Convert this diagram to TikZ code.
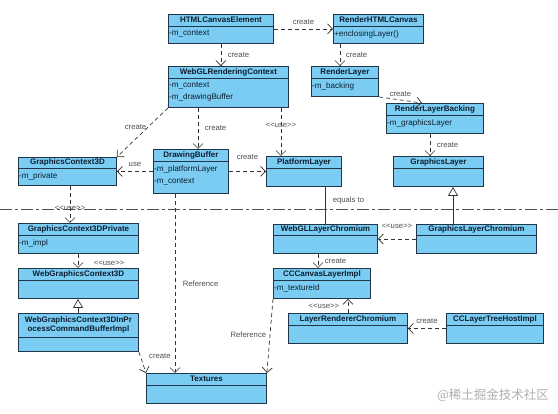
\documentclass[tikz,border=0pt]{standalone}
\usepackage{fontspec}
\setmainfont{Liberation Sans}
\newfontfamily\cjk{Noto Sans CJK SC}
\usepackage{tikz}
\usetikzlibrary{arrows.meta}
\definecolor{boxfill}{HTML}{7ACCF2}
\definecolor{boxline}{HTML}{22364A}
\definecolor{ink}{HTML}{0E1E30}
\definecolor{wire}{HTML}{333333}
\definecolor{note}{HTML}{4F4F4F}
\definecolor{wmark}{HTML}{B0B0B0}
\newcommand{\stereo}[1]{<\kern0pt<#1>\kern0pt>}
\begin{document}
\begin{tikzpicture}[x=1pt,y=-1pt,
  classbox/.style={draw=boxline,fill=boxfill,line width=0.9pt,inner sep=0pt,anchor=north west},
  classname/.style={font=\fontsize{8}{9.6}\selectfont\bfseries,text=ink,align=center,inner sep=0pt},
  classattr/.style={font=\fontsize{8.1}{12}\selectfont,text=ink,align=left,anchor=north west,inner sep=1pt},
  lbl/.style={font=\fontsize{7.7}{9}\selectfont,text=note,inner sep=0.5pt},
  dep/.style={draw=wire,line width=0.7pt,dash pattern=on 4pt off 3pt,
    -{Straight Barb[length=5pt,width=10pt,line width=0.7pt]}},
  inherit/.style={draw=wire,line width=0.7pt,
    -{Triangle[open,length=9pt,width=10pt,fill=white,line width=0.7pt]}}]
  \useasboundingbox (0,0) rectangle (558,414);
  \fill[white] (0,0) rectangle (558,414);
  % Layer separator
  \draw[note,line width=0.9pt,dash pattern=on 12pt off 3pt on 3pt off 3pt]
    (0,209)--(558,209);
  % Classes
  \foreach \nm/\bx/\by/\bw/\bh/\hd/\ttl in {
    html/168/14/105/29/12/HTMLCanvasElement,
    rhc/333/14/90/29/12/RenderHTMLCanvas,
    wrc/168/66/120/41/12/WebGLRenderingContext,
    rl/311/66/67/30/12/RenderLayer,
    rlb/386/103/97/30/12/RenderLayerBacking,
    gc3d/18/157/98/28/11/GraphicsContext3D,
    db/153/149/75/44/12/DrawingBuffer,
    pl/266/156/75/30/12/PlatformLayer,
    gl/393/156/90/30/12/GraphicsLayer,
    gc3dp/18/223/120/30/12/GraphicsContext3DPrivate,
    wglc/273/224/104/29/11/WebGLLayerChromium,
    glc/416/224/120/29/11/GraphicsLayerChromium,
    wgc3d/18/268/120/30/12/WebGraphicsContext3D,
    wgc3dipc/18/313/120/38/24/{WebGraphicsContext3DInPr\\ocessCommandBufferImpl},
    tex/146/373/120/30/12/Textures,
    ccc/273/268/97/30/12/CCCanvasLayerImpl,
    lrc/288/313/119/30/12/LayerRendererChromium,
    cclth/446/313/97/30/12/CCLayerTreeHostImpl%
  }{
    \node[classbox,minimum width=\bw pt,minimum height=\bh pt] (\nm) at (\bx,\by) {};
    \draw[boxline,line width=0.9pt]
      ([shift={(0,\hd)}]\nm.north west)--([shift={(0,\hd)}]\nm.north east);
    \node[classname] (\nm-name) at ([shift={(0,\hd/2)}]\nm.north) {\ttl};
  }
  % Attributes
  \node[classattr] (html-attr) at ([shift={(0,15)}]html.north west) {-m\_context};
  \node[classattr] (rhc-attr) at ([shift={(0,15)}]rhc.north west) {+enclosingLayer()};
  \node[classattr] (wrc-attr) at ([shift={(0,15.5)}]wrc.north west)
    {-m\_context\\-m\_drawingBuffer};
  \node[classattr] (rl-attr) at ([shift={(0,15)}]rl.north west) {-m\_backing};
  \node[classattr] (rlb-attr) at ([shift={(0,15)}]rlb.north west) {-m\_graphicsLayer};
  \node[classattr] (gc3d-attr) at ([shift={(0,14)}]gc3d.north west) {-m\_private};
  \node[classattr] (db-attr) at ([shift={(0,15)}]db.north west)
    {-m\_platformLayer\\-m\_context};
  \node[classattr] (gc3dp-attr) at ([shift={(0,15)}]gc3dp.north west) {-m\_impl};
  \node[classattr] (ccc-attr) at ([shift={(0,15)}]ccc.north west) {-m\_textureId};
  % Upper connectors
  \draw[dep] (html.east) -- node[lbl,above=4pt] (lb-htmlrhc) {create} (rhc.west);
  \draw[dep] (html.south) -- node[lbl,right=6pt] (lb-htmlwrc) {create}
    (html.south |- wrc.north);
  \draw[dep] (340,0 |- rhc.south) -- node[lbl,right=5pt] (lb-rhcrl) {create}
    (340,0 |- rl.north);
  \draw[dep] (rl.south east) -- node[lbl,above=3pt] (lb-rlrlb) {create}
    ([xshift=36pt]rlb.north west);
  \draw[dep] (430,0 |- rlb.south) -- node[lbl,right=6pt] (lb-rlbgl) {create}
    (430,0 |- gl.north);
  \draw[dep] (wrc.south west) -- node[lbl,pos=0.38,xshift=-13pt] (lb-wrcgc) {create}
    (gc3d.north east);
  \draw[dep] (198,0 |- wrc.south) -- node[lbl,right=6pt] (lb-wrcdb) {create}
    (198,0 |- db.north);
  \draw[dep] (281,0 |- wrc.south) -- node[lbl,pos=0.37] (lb-wrcpl) {\stereo{use}}
    (281,0 |- pl.north);
  \draw[dep] (db.west) -- node[lbl,above=4pt] (lb-dbgc) {use} (gc3d.east);
  \draw[dep] (db.east) -- node[lbl,above=11pt] (lb-dbpl) {create} (pl.west);
  % Across the separator
  \draw[dep] (70,0 |- gc3d.south) -- node[lbl,pos=0.6] (lb-gcgcp) {\stereo{use}}
    (70,0 |- gc3dp.north);
  \draw[wire,line width=0.7pt] (325,0 |- pl.south) --
    node[lbl,pos=0.37,right=7pt] (lb-plwglc) {equals to} (325,0 |- wglc.north);
  \draw[inherit] (453,0 |- glc.north) -- (453,0 |- gl.south);
  % Lower connectors
  \draw[dep] (glc.west) -- node[lbl,above=10pt] (lb-glcwglc) {\stereo{use}} (wglc.east);
  \draw[dep] (78,0 |- gc3dp.south) -- node[lbl,pos=0.7,right=15pt] (lb-gcpwgc)
    {\stereo{use}} (78,0 |- wgc3d.north);
  \draw[inherit] (78,0 |- wgc3dipc.north) -- (78,0 |- wgc3d.south);
  \draw[dep] (wgc3dipc.south east) -- node[lbl,pos=0.2,right=8pt] (lb-ipctex)
    {create} (tex.north west);
  \draw[dep] (175,0 |- db.south) -- node[lbl,right=7pt] (lb-dbtex) {Reference}
    (175,0 |- tex.north);
  \draw[dep] (ccc.south west) -- node[lbl,pos=0.49,left=3pt] (lb-ccctex) {Reference}
    (tex.north east);
  \draw[dep] (318,0 |- wglc.south) -- node[lbl,right=6pt] (lb-wglcccc) {create}
    (318,0 |- ccc.north);
  \draw[dep] (348,0 |- lrc.north) -- node[lbl,left=8pt] (lb-lrcccc) {\stereo{use}}
    (348,0 |- ccc.south);
  \draw[dep] (cclth.west) -- node[lbl,above=4pt] (lb-cclthlrc) {create} (lrc.east);
  % Watermark
  \node[font=\cjk\fontsize{12.5}{13}\selectfont,text=wmark] (wmark) at (493,395)
    {@稀土掘金技术社区};
\end{tikzpicture}
\end{document}
